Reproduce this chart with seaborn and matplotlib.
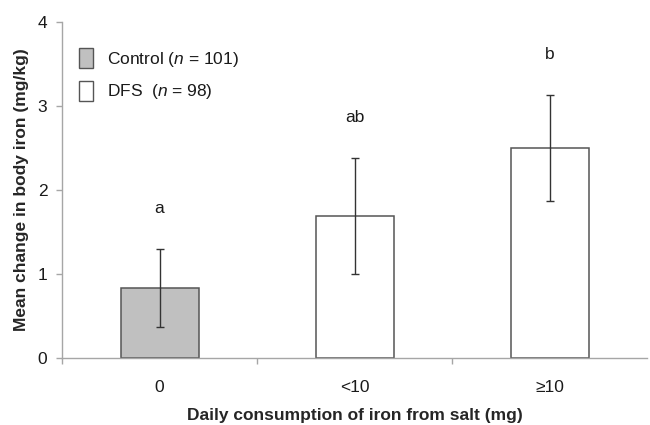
import matplotlib
matplotlib.use("Agg")
import matplotlib.pyplot as plt
import matplotlib.patches as mpatches
import seaborn as sns
import pandas as pd
import numpy as np

categories = ["0", "<10", "\u226510"]
groups = ["Control", "DFS", "DFS"]
means = [0.83, 1.69, 2.50]
lower = [0.37, 1.00, 1.87]
upper = [1.30, 2.38, 3.13]
letters = ["a", "ab", "b"]
legend_labels = [r"Control ($\mathit{n}$ = 101)", r"DFS  ($\mathit{n}$ = 98)"]

sns.set_theme(style="white")
plt.rcParams["font.family"] = ["Liberation Sans", "DejaVu Sans"]
plt.rcParams["mathtext.fontset"] = "custom"
plt.rcParams["mathtext.rm"] = "Liberation Sans"
plt.rcParams["mathtext.it"] = "Liberation Sans:italic"
plt.rcParams["text.color"] = "#1a1a1a"

FS = 12.5

df = pd.DataFrame({"cat": categories, "group": groups, "mean": means})

fig = plt.figure(figsize=(6.5, 4.25), dpi=100)
ax = fig.add_axes([0.0954, 0.1576, 0.9, 0.7906])

palette = {"Control": "#c0c0c0", "DFS": "#ffffff"}
sns.barplot(data=df, x="cat", y="mean", hue="group", palette=palette,
            dodge=False, width=0.4, edgecolor="#555555", linewidth=1.1,
            legend=False, ax=ax)

x = np.arange(len(categories))
m = np.array(means)
yerr = np.vstack([m - np.array(lower), np.array(upper) - m])
ax.errorbar(x, m, yerr=yerr, fmt="none", ecolor="#333333", elinewidth=1.0,
            capsize=3, capthick=1.0)

for xi, up, lab in zip(x, upper, letters):
    ax.text(xi, up + 0.48, lab, ha="center", va="center", fontsize=FS, color="#1a1a1a")

ax.set_xlim(-0.5, 2.5)
ax.set_ylim(0, 4)
ax.set_yticks([0, 1, 2, 3, 4])
ax.set_xticks(x)
ax.set_xticklabels(categories)
ax.set_xticks([-0.5, 0.5, 1.5], minor=True)
ax.tick_params(axis="x", which="major", length=0, pad=16, labelsize=FS, labelcolor="#1a1a1a")
ax.tick_params(axis="x", which="minor", length=4.5, width=1, color="#a6a6a6", direction="out", bottom=True)
ax.tick_params(axis="y", which="major", length=4.5, width=1, color="#a6a6a6", direction="out", left=True,
               pad=6, labelsize=FS, labelcolor="#1a1a1a")

for s in ["top", "right"]:
    ax.spines[s].set_visible(False)
for s in ["left", "bottom"]:
    ax.spines[s].set_color("#a6a6a6")
    ax.spines[s].set_linewidth(1.0)

ax.set_xlabel("Daily consumption of iron from salt (mg)", fontsize=FS, fontweight="bold", labelpad=9)
ax.set_ylabel("Mean change in body iron (mg/kg)", fontsize=FS, fontweight="bold", labelpad=6)

handles = [mpatches.Patch(facecolor="#c0c0c0", edgecolor="#555555", linewidth=1.0),
           mpatches.Patch(facecolor="#ffffff", edgecolor="#555555", linewidth=1.0)]
ax.legend(handles, legend_labels, loc="upper left", bbox_to_anchor=(0.003, 0.97),
          frameon=False, fontsize=FS, handlelength=0.8, handleheight=1.4,
          handletextpad=0.8, labelspacing=0.7)

fig.savefig("out.png", dpi=100)
